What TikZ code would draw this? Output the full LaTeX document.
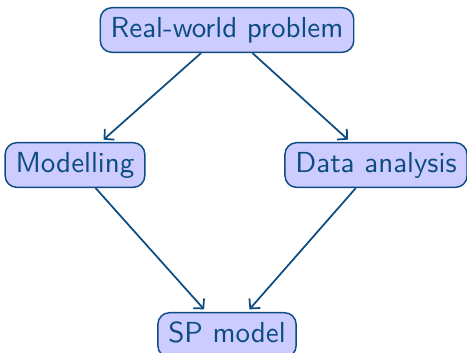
\documentclass[tikz,border=0pt]{standalone}
\usepackage{tikz}
\usetikzlibrary{arrows.meta}
\definecolor{boxline}{RGB}{12,76,130}
\definecolor{boxfill}{RGB}{204,204,255}

\begin{document}
\begin{tikzpicture}[x=0.345pt,y=-0.345pt,
  stage/.style={draw=boxline,fill=boxfill,text=boxline,rounded corners=4pt,
    font=\sffamily,text height=7.2pt,text depth=2.2pt,inner xsep=3.6pt,inner ysep=3pt,
    line width=0.5pt},
  flow/.style={-{Straight Barb[length=2.4pt,width=5pt]},draw=boxline,line width=0.6pt,shorten >=1.2pt}]
  \useasboundingbox (0,0) rectangle (467,352);
  \node[stage] (problem) at (227,30) {Real-world problem};
  \node[stage] (modelling) at (75,165) {Modelling};
  \node[stage] (data) at (376,165) {Data analysis};
  \node[stage] (spmodel) at (227,335) {SP model};
  \draw[flow] (problem) -- (modelling);
  \draw[flow] (problem) -- (data);
  \draw[flow] (modelling) -- (spmodel);
  \draw[flow] (data) -- (spmodel);
\end{tikzpicture}
\end{document}
